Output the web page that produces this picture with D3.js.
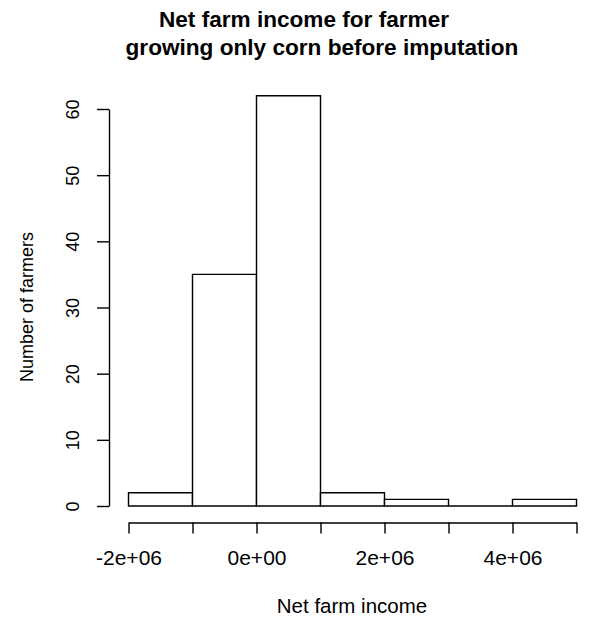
<!DOCTYPE html>
<html>
<head>
<meta charset="utf-8">
<script src="https://cdn.jsdelivr.net/npm/d3@7"></script>
<style>
  body { margin: 0; background: #fff; }
  svg { display: block; font-family: "Liberation Sans", Arial, sans-serif; }
</style>
</head>
<body>
<div id="hist"></div>
<script>
// histogram: net farm income, corn-only farmers (before imputation)
const binStarts = [-2e6, -1e6, 0, 1e6, 2e6, 3e6, 4e6];
const binWidth = 1e6;
const counts = [2, 35, 62, 2, 1, 0, 1];
const yTicks = [0, 10, 20, 30, 40, 50, 60];
const xTicks = [-2e6, -1e6, 0, 1e6, 2e6, 3e6, 4e6, 5e6];
const xTickLabels = { "-2000000": "-2e+06", "0": "0e+00", "2000000": "2e+06", "4000000": "4e+06" };
const titleLines = ["Net farm income for farmer", "growing only corn before imputation"];

const width = 598, height = 622;

const svg = d3.select("#hist").append("svg")
  .attr("width", width)
  .attr("height", height);

const x = d3.scaleLinear().domain([-2e6, 5e6]).range([128.5, 576.5]);
const y = d3.scaleLinear().domain([0, 60]).range([506, 109]);

// bars as closed paths so an empty bin still shows its flat line
svg.append("g")
  .selectAll("path")
  .data(binStarts.map((s, i) => ({ x0: s, x1: s + binWidth, n: counts[i] })))
  .join("path")
  .attr("d", d => `M${x(d.x0)},${y(0)}V${y(d.n)}H${x(d.x1)}V${y(0)}Z`)
  .attr("fill", "white")
  .attr("stroke", "black")
  .attr("stroke-width", 1.4);

// x axis
const xAxis = svg.append("g")
  .attr("transform", "translate(0,522.5)")
  .call(d3.axisBottom(x)
    .tickValues(xTicks)
    .tickFormat(d => xTickLabels[String(d)] || "")
    .tickSize(11)
    .tickPadding(17)
    .tickSizeOuter(0));
xAxis.select(".domain").attr("stroke-width", 1.4);
xAxis.selectAll(".tick line").attr("stroke-width", 1.4);
xAxis.selectAll("text").attr("font-size", 21).attr("font-family", "Liberation Sans, Arial, sans-serif").attr("fill", "#000");

// y axis
const yAxis = svg.append("g")
  .attr("transform", "translate(109,0)")
  .call(d3.axisLeft(y).tickValues(yTicks).tickSize(12).tickSizeOuter(0));
yAxis.select(".domain").attr("stroke-width", 1.4);
yAxis.selectAll(".tick line").attr("stroke-width", 1.4);
yAxis.selectAll("text")
  .attr("x", null).attr("dy", null)
  .attr("transform", "translate(-30,0) rotate(-90)")
  .attr("text-anchor", "middle")
  .attr("font-size", 18)
  .attr("font-family", "Liberation Sans, Arial, sans-serif")
  .attr("fill", "#000");

// title
svg.append("text")
  .attr("x", 304).attr("y", 27)
  .attr("text-anchor", "middle")
  .attr("font-size", 22.6).attr("font-weight", "bold")
  .text(titleLines[0]);
svg.append("text")
  .attr("x", 322).attr("y", 55)
  .attr("text-anchor", "middle")
  .attr("font-size", 22.6).attr("font-weight", "bold")
  .text(titleLines[1]);

// axis labels
svg.append("text")
  .attr("x", 352).attr("y", 613)
  .attr("text-anchor", "middle")
  .attr("font-size", 20.5)
  .text("Net farm income");

svg.append("text")
  .attr("transform", "translate(33,307) rotate(-90)")
  .attr("text-anchor", "middle")
  .attr("font-size", 18)
  .text("Number of farmers");
</script>
</body>
</html>
